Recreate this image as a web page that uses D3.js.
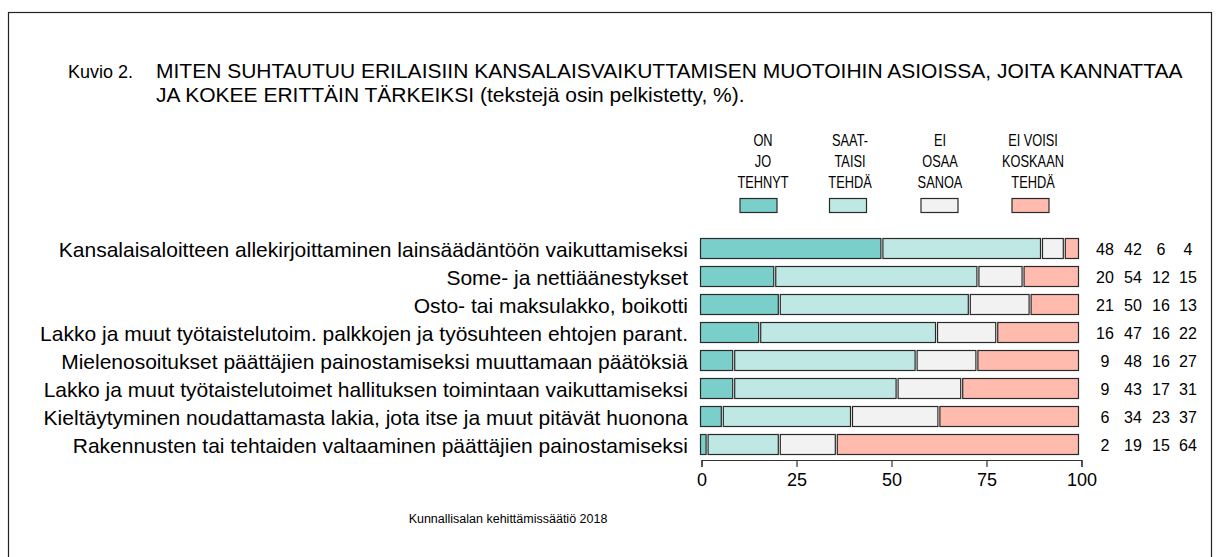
<!doctype html>
<html>
<head>
<meta charset="utf-8">
<title>Kuvio 2</title>
<script src="https://d3js.org/d3.v7.min.js"></script>
<style>
  body { margin: 0; background: #fff; }
  text { font-family: "Liberation Sans", Arial, sans-serif; fill: #000; }
</style>
</head>
<body>
<svg width="1221" height="557"></svg>
<script>
// data
var categories = [
    "Kansalaisaloitteen allekirjoittaminen lainsäädäntöön vaikuttamiseksi",
    "Some- ja nettiäänestykset",
    "Osto- tai maksulakko, boikotti",
    "Lakko ja muut työtaistelutoim. palkkojen ja työsuhteen ehtojen parant.",
    "Mielenosoitukset päättäjien painostamiseksi muuttamaan päätöksiä",
    "Lakko ja muut työtaistelutoimet hallituksen toimintaan vaikuttamiseksi",
    "Kieltäytyminen noudattamasta lakia, jota itse ja muut pitävät huonona",
    "Rakennusten tai tehtaiden valtaaminen päättäjien painostamiseksi"
];
var onJoTehnyt   = [48, 20, 21, 16,  9,  9,  6,  2];
var saattaisi    = [42, 54, 50, 47, 48, 43, 34, 19];
var eiOsaaSanoa  = [ 6, 12, 16, 16, 16, 17, 23, 15];
var eiKoskaan    = [ 4, 15, 13, 22, 27, 31, 37, 64];
var seriesNames  = [["ON", "JO", "TEHNYT"], ["SAAT-", "TAISI", "TEHDÄ"], ["EI", "OSAA", "SANOA"], ["EI VOISI", "KOSKAAN", "TEHDÄ"]];
var colors       = ["#7acfcb", "#bfe8e4", "#f2f2f2", "#ffbbad"];
var xTicks       = [0, 25, 50, 75, 100];

var series = [onJoTehnyt, saattaisi, eiOsaaSanoa, eiKoskaan];

var svg = d3.select("svg");

// frame
svg.append("rect")
    .attr("x", 8.5).attr("y", 12.5)
    .attr("width", 1203).attr("height", 560)
    .attr("fill", "none").attr("stroke", "#222").attr("stroke-width", 1.2);

// title
svg.append("text").attr("x", 68).attr("y", 78)
    .style("font-size", "18px").text("Kuvio 2.");
svg.append("text").attr("x", 156).attr("y", 78)
    .style("font-size", "21px")
    .text("MITEN SUHTAUTUU ERILAISIIN KANSALAISVAIKUTTAMISEN MUOTOIHIN ASIOISSA, JOITA KANNATTAA");
svg.append("text").attr("x", 156).attr("y", 102)
    .style("font-size", "21px")
    .text("JA KOKEE ERITTÄIN TÄRKEIKSI (tekstejä osin pelkistetty, %).");

// scales
var x = d3.scaleLinear().domain([0, 100]).range([701.5, 1081.5]);
var y = d3.scaleBand().domain(d3.range(categories.length))
    .range([234.5, 458.5]).paddingInner(8 / 28).paddingOuter(4 / 28);

// stacked rows (each row scaled to 100 %)
var rows = categories.map(function(c, i) {
    var vals = series.map(function(s) { return s[i]; });
    var total = d3.sum(vals);
    var acc = 0;
    return vals.map(function(v, k) {
        var seg = { row: i, k: k, x0: acc / total * 100 };
        acc += v;
        seg.x1 = acc / total * 100;
        return seg;
    });
});

var g = svg.append("g");
g.selectAll("g.row")
    .data(rows)
    .enter().append("g")
    .selectAll("rect")
    .data(function(d) { return d; })
    .enter().append("rect")
    .attr("x", function(d) { return x(d.x0) - 1; })
    .attr("y", function(d) { return y(d.row); })
    .attr("width", function(d) { return Math.max(0.5, x(d.x1) - x(d.x0) - 2); })
    .attr("height", y.bandwidth())
    .attr("fill", function(d) { return colors[d.k]; })
    .attr("stroke", "#2a2a2a")
    .attr("stroke-width", 1.2);

// category labels
svg.selectAll("text.cat")
    .data(categories)
    .enter().append("text")
    .attr("class", "cat")
    .attr("x", 688)
    .attr("y", function(d, i) { return y(i) + y.bandwidth() / 2 + 8; })
    .attr("text-anchor", "end")
    .style("font-size", "21px")
    .text(function(d) { return d; });

// value columns
var colX = [1105, 1133, 1161, 1188];
series.forEach(function(s, k) {
    svg.selectAll("text.val" + k)
        .data(s)
        .enter().append("text")
        .attr("x", colX[k])
        .attr("y", function(d, i) { return y(i) + y.bandwidth() / 2 + 6; })
        .attr("text-anchor", "middle")
        .style("font-size", "16px")
        .text(function(d) { return d; });
});

// x axis
var ax = svg.append("g")
    .attr("transform", "translate(0,460)")
    .call(d3.axisBottom(x).tickValues(xTicks).tickSize(7).tickPadding(6));
ax.select(".domain").attr("stroke", "#333").attr("stroke-width", 1.2);
ax.selectAll(".tick line").attr("stroke", "#333").attr("stroke-width", 1.2);
ax.selectAll(".tick text")
    .style("font-family", "'Liberation Sans', Arial, sans-serif")
    .style("font-size", "18px").attr("fill", "#000");

// legend (narrow lettering)
var legX = [758.5, 848, 939.5, 1030.5];
var legTextX = [763, 850, 940, 1033];
seriesNames.forEach(function(lines, k) {
    lines.forEach(function(l, j) {
        svg.append("text")
            .attr("transform", "translate(" + legTextX[k] + "," + (146 + j * 21) + ") scale(0.8,1)")
            .attr("text-anchor", "middle")
            .style("font-size", "16px")
            .text(l);
    });
    svg.append("rect")
        .attr("x", legX[k] - 18.5).attr("y", 198.5)
        .attr("width", 37).attr("height", 14)
        .attr("fill", colors[k]).attr("stroke", "#2a2a2a").attr("stroke-width", 1.2);
});

// source
svg.append("text").attr("x", 508).attr("y", 523)
    .attr("text-anchor", "middle")
    .style("font-size", "12.5px")
    .text("Kunnallisalan kehittämissäätiö 2018");
</script>
</body>
</html>
